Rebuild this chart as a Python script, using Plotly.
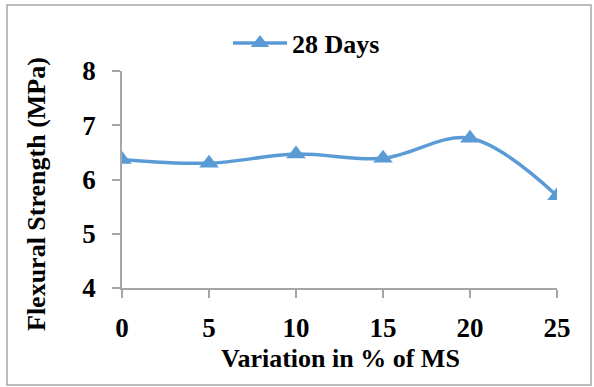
import plotly.graph_objects as go

# Data
variation_pct = [0, 5, 10, 15, 20, 25]
flexural_28d = [6.37, 6.30, 6.47, 6.39, 6.76, 5.70]
series_name = "28 Days"
x_title = "Variation in % of MS"
y_title = "Flexural Strength (MPa)"
x_ticks = [0, 5, 10, 15, 20, 25]
y_ticks = [4, 5, 6, 7, 8]

FONT = "Liberation Serif, Times New Roman, serif"
BLUE = "#5B9BD5"
AXIS_GRAY = "#A6A6A6"

W, H = 594, 387
ML, MR, MT, MB = 122, 37, 71, 99
pw = W - ML - MR
ph = H - MT - MB

def px_to_paper_x(px):
    return (px - ML) / pw

def px_to_paper_y(py):
    return (H - MB - py) / ph

fig = go.Figure()
fig.add_trace(go.Scatter(
    x=variation_pct, y=flexural_28d, name=series_name,
    mode="lines+markers",
    line=dict(color=BLUE, width=3.5, shape="spline", smoothing=1),
    marker=dict(symbol="triangle-up", size=17, color=BLUE),
))

fig.update_layout(
    width=W, height=H,
    margin=dict(l=ML, r=MR, t=MT, b=MB),
    paper_bgcolor="white", plot_bgcolor="white",
    font=dict(family=FONT, color="black", size=26, weight="bold"),
    showlegend=True,
    legend=dict(
        orientation="h", x=px_to_paper_x(228), y=px_to_paper_y(43),
        xanchor="left", yanchor="middle",
        font=dict(family=FONT, size=26, weight="bold"),
        itemwidth=54, bgcolor="rgba(0,0,0,0)",
    ),
    xaxis=dict(
        range=[0, 25], tickvals=x_ticks, showgrid=False, zeroline=False,
        showline=True, linecolor=AXIS_GRAY, linewidth=1.5,
        ticks="outside", ticklen=8, tickcolor=AXIS_GRAY, tickwidth=1.5,
        tickfont=dict(family=FONT, size=27, weight="bold"),
        ticklabelstandoff=7,
    ),
    yaxis=dict(
        range=[4, 8], tickvals=y_ticks, showgrid=False, zeroline=False,
        showline=True, linecolor=AXIS_GRAY, linewidth=1.5,
        ticks="outside", ticklen=8, tickcolor=AXIS_GRAY, tickwidth=1.5,
        tickfont=dict(family=FONT, size=27, weight="bold"),
        ticklabelstandoff=11,
    ),
    annotations=[
        dict(text=x_title, xref="paper", yref="paper",
             x=px_to_paper_x(340), y=px_to_paper_y(358),
             xanchor="center", yanchor="middle", showarrow=False,
             font=dict(family=FONT, size=26, weight="bold")),
        dict(text=y_title, xref="paper", yref="paper",
             x=px_to_paper_x(36), y=px_to_paper_y(194),
             xanchor="center", yanchor="middle", showarrow=False, textangle=-90,
             font=dict(family=FONT, size=26, weight="bold")),
    ],
    shapes=[
        dict(type="rect", xref="paper", yref="paper",
             x0=px_to_paper_x(7), x1=px_to_paper_x(591),
             y0=px_to_paper_y(385), y1=px_to_paper_y(5),
             line=dict(color=AXIS_GRAY, width=1.5), fillcolor="rgba(0,0,0,0)",
             layer="below"),
    ],
)

fig.write_html("out.html")
